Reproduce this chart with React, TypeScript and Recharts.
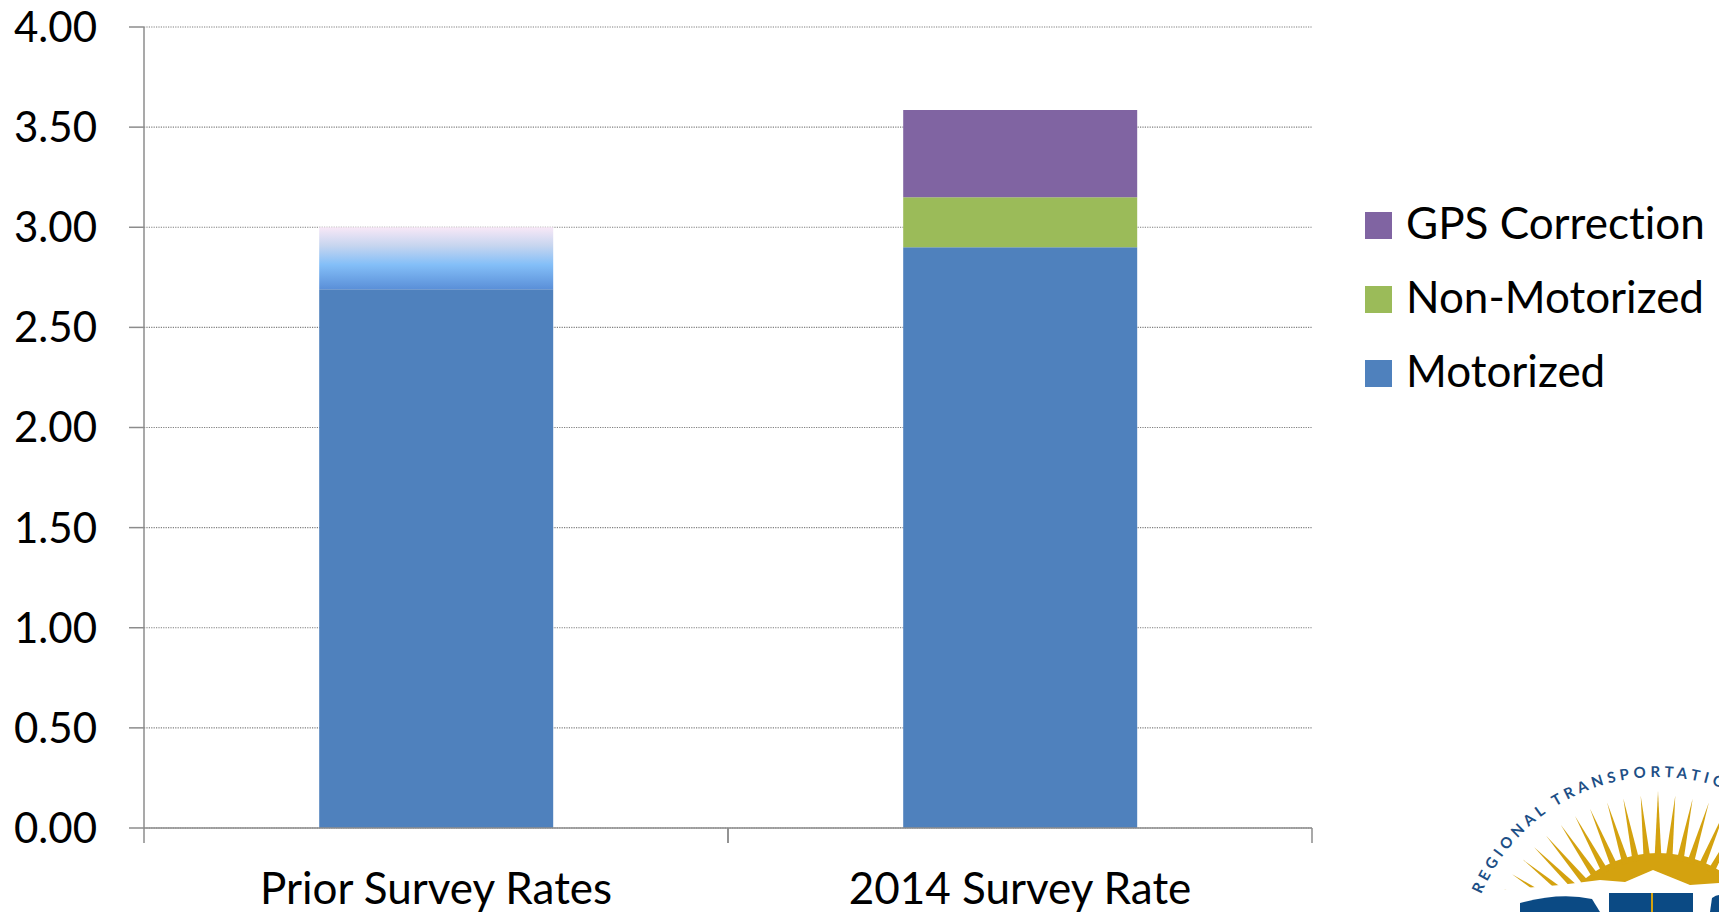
import { Bar, BarChart, CartesianGrid, Legend, XAxis, YAxis } from 'recharts';

// values (trips per person)
const categories = ['Prior Survey Rates', '2014 Survey Rate'];
const motorized = [2.69, 2.9];
const priorRange = [0.31, 0];
const nonMotorized = [0, 0.25];
const gpsCorrection = [0, 0.435];
const yTicks = [0, 0.5, 1, 1.5, 2, 2.5, 3, 3.5, 4];
const legendOrder = ['GPS Correction', 'Non-Motorized', 'Motorized'];

const data = categories.map((name, i) => ({
  name,
  motorized: motorized[i],
  priorRange: priorRange[i],
  nonMotorized: nonMotorized[i],
  gps: gpsCorrection[i],
}));

const FONT = 'Lato, "Open Sans", sans-serif';
const AXIS = '#8c8c8c';
const noLiga = { fontVariantLigatures: 'none' as const };

function CategoryTick(props: any) {
  const { x, y, payload, width, visibleTicksCount } = props;
  const half = payload?.offset ?? width / (visibleTicksCount || 1) / 2;
  return (
    <g>
      <line x1={x - half} x2={x - half} y1={y} y2={y + 15} stroke={AXIS} strokeWidth={1.5} />
      <line x1={x + half} x2={x + half} y1={y} y2={y + 15} stroke={AXIS} strokeWidth={1.5} />
      <text x={x} y={y + 76} textAnchor="middle" fill="#000" fontSize={44} fontFamily={FONT} style={noLiga}>
        {payload.value}
      </text>
    </g>
  );
}

function LegendBox({ payload }: any) {
  const items = (payload || [])
    .filter((p: any) => legendOrder.includes(p.value))
    .sort((a: any, b: any) => legendOrder.indexOf(a.value) - legendOrder.indexOf(b.value));
  // 20px headroom at the top so the first label's ascenders are not clipped
  return (
    <svg width={354} height={260} style={{ display: 'block', overflow: 'visible' }}>
      {items.map((p: any, i: number) => (
        <g key={p.value}>
          <rect x={0} y={20 + i * 74} width={27} height={27} fill={p.color} />
          <text x={41} y={20 + i * 74 + 27} fontSize={44} fontFamily={FONT} fill="#000" style={noLiga}>
            {p.value}
          </text>
        </g>
      ))}
    </svg>
  );
}

// decorative agency logo in the lower right corner
const rayAngles = [-80, -74, -68, -62.5, -57, -51, -45.5, -40, -34, -28.5, -23, -17, -11.5, -5.7, 0, 5.7, 11.5, 17, 23, 28.5, 34, 40, 45.5, 51, 57, 62.5, 68, 74, 80];

function Logo() {
  const cx = 1658;
  const cy = 969;
  const rad = (d: number) => (d * Math.PI) / 180;
  const pt = (deg: number, r: number) => [cx + r * Math.sin(rad(deg)), cy - r * Math.cos(rad(deg))];
  const [sx, sy] = pt(-68, 192);
  const [ex, ey] = pt(40, 192);
  const gold = '#d4a20f';
  const blue = '#0b4a84';
  return (
    <svg width={1719} height={912} style={{ position: 'absolute', left: 0, top: 0, pointerEvents: 'none' }}>
      <defs>
        <path id="logoArc" d={`M ${sx} ${sy} A 192 192 0 0 1 ${ex} ${ey}`} fill="none" />
      </defs>
      <circle cx={cx} cy={cy} r={116} fill={gold} />
      {rayAngles.map((a) => {
        const [x1, y1] = pt(a - 1.8, 110);
        const [x2, y2] = pt(a + 1.8, 110);
        const [tx, ty] = pt(a, a === 0 ? 178 : 174);
        return <polygon key={a} points={`${x1},${y1} ${tx},${ty} ${x2},${y2}`} fill={gold} />;
      })}
      <polygon
        points="1470,912 1480,900 1500,890 1560,885 1600,880 1625,882 1653,870 1690,885 1719,883 1719,912"
        fill="#fff"
      />
      <text fontSize={15} fontFamily={FONT} fontWeight={700} letterSpacing={4.3} fill="#1d4f86">
        <textPath href="#logoArc" startOffset={3}>
          REGIONAL TRANSPORTATION
        </textPath>
      </text>
      <path d="M1520,912 L1520,903 Q1560,892 1592,899 L1600,912 Z" fill={blue} />
      <rect x={1609} y={893} width={84} height={19} fill={blue} />
      <line x1={1652} x2={1652} y1={893} y2={912} stroke={gold} strokeWidth={2} />
      <path d="M1710,912 L1712,898 Q1716,895 1719,895 L1719,912 Z" fill={blue} />
    </svg>
  );
}

export default function App() {
  return (
    <div
      style={{
        position: 'absolute',
        left: 0,
        top: 0,
        width: 1719,
        height: 912,
        background: '#fff',
        overflow: 'hidden',
      }}
    >
      <BarChart
        width={1719}
        height={912}
        data={data}
        margin={{ top: 27, right: 407, bottom: 0, left: 0 }}
        barCategoryGap="30%"
      >
        <defs>
          <linearGradient id="priorFill" x1="0" y1="0" x2="0" y2="1">
            <stop offset="0" stopColor="#f8e8f7" />
            <stop offset="0.3" stopColor="#c6d5ef" />
            <stop offset="0.6" stopColor="#84bff8" />
            <stop offset="1" stopColor="#5a8fd8" />
          </linearGradient>
        </defs>
        <CartesianGrid vertical={false} stroke="#7f7f7f" strokeWidth={1.2} strokeDasharray="1.2 1.2" />
        <XAxis
          dataKey="name"
          height={84}
          interval={0}
          axisLine={{ stroke: AXIS, strokeWidth: 1.5 }}
          tickLine={false}
          tickSize={0}
          tickMargin={0}
          tick={<CategoryTick />}
        />
        <YAxis
          domain={[0, 4]}
          ticks={yTicks}
          width={144}
          axisLine={{ stroke: AXIS, strokeWidth: 1.5 }}
          tickLine={{ stroke: AXIS, strokeWidth: 1.5 }}
          tickSize={15}
          tickMargin={32}
          tick={{ fill: '#000', fontSize: 42, fontFamily: FONT }}
          tickFormatter={(v: number) => v.toFixed(2)}
        />
        <Legend
          layout="vertical"
          align="center"
          verticalAlign="middle"
          wrapperStyle={{ left: 1365, top: 192, width: 354 }}
          content={<LegendBox />}
        />
        <Bar dataKey="motorized" name="Motorized" stackId="a" fill="#4f81bd" isAnimationActive={false} />
        <Bar dataKey="priorRange" name="Prior range" stackId="a" fill="url(#priorFill)" legendType="none" isAnimationActive={false} />
        <Bar dataKey="nonMotorized" name="Non-Motorized" stackId="a" fill="#9bbb59" isAnimationActive={false} />
        <Bar dataKey="gps" name="GPS Correction" stackId="a" fill="#8064a2" isAnimationActive={false} />
      </BarChart>
      <Logo />
    </div>
  );
}
